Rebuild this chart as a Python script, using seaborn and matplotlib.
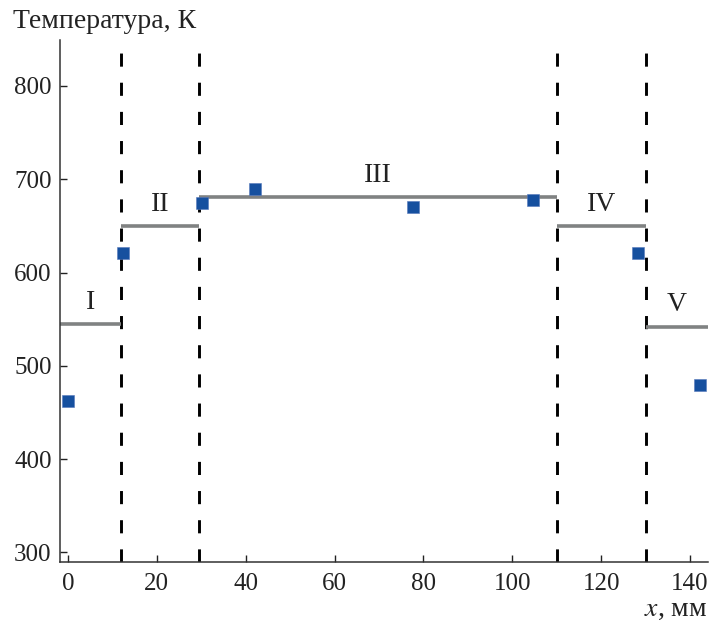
import matplotlib
matplotlib.use("Agg")
import matplotlib.pyplot as plt
import seaborn as sns
import pandas as pd

# Measured temperatures along the sample
x_mm = [0, 12.4, 30.1, 42.1, 77.6, 104.7, 128.3, 142.2]
temp_K = [462, 621, 674, 690, 670, 678, 621, 480]

# Heating zones: boundaries, set temperatures and names
zone_edges = [-1.8, 12, 29.5, 110, 130, 144]
zone_temp = [545, 650, 681, 650, 542]
zone_names = ["I", "II", "III", "IV", "V"]

x_ticks = [0, 20, 40, 60, 80, 100, 120, 140]
y_ticks = [300, 400, 500, 600, 700, 800]

sns.set_theme(style="ticks")
plt.rcParams["font.family"] = ["Liberation Serif", "DejaVu Serif"]
plt.rcParams["mathtext.fontset"] = "stix"

fig = plt.figure(figsize=(7.10, 6.24), dpi=100)
ax = fig.add_axes([0.0845, 0.0994, 0.9125, 0.8366])

# zone set-point levels
for i, (t, name) in enumerate(zip(zone_temp, zone_names)):
    x0, x1 = zone_edges[i], zone_edges[i + 1]
    ax.hlines(t, x0, x1, color="#808282", lw=2.6, zorder=2)
    ax.text((x0 + x1) / 2, t + 10, name, ha="center", va="bottom",
            fontsize=20, color="#222222")

# zone boundaries
for xb in zone_edges[1:-1]:
    ax.axvline(xb, color="black", lw=2.1, linestyle=(0, (4.5, 5.5)), zorder=1)

df = pd.DataFrame({"x": x_mm, "T": temp_K})
sns.scatterplot(data=df, x="x", y="T", marker="s", s=66, color="#16509f",
                edgecolor="#5577bb", linewidth=0.4, ax=ax, zorder=3)

ax.set_xlim(-1.8, 144)
ax.set_ylim(289.8, 849.3)
ax.set_xticks(x_ticks)
ax.set_yticks(y_ticks)
ax.tick_params(direction="in", length=5, width=1, labelsize=18,
               colors="#222222")
ax.tick_params(axis="x", pad=8)
ax.tick_params(axis="y", pad=6)
for s in ["top", "right"]:
    ax.spines[s].set_visible(False)
for s in ["left", "bottom"]:
    ax.spines[s].set_color("#333333")
    ax.spines[s].set_linewidth(1.1)
ax.set_xlabel("")
ax.set_ylabel("")

fig.text(0.018, 0.966, "Температура, К", ha="left", va="center",
         fontsize=20, color="#222222")
fig.text(0.997, 0.024, r"$x$, мм", ha="right", va="center",
         fontsize=20, color="#222222")

fig.savefig("out.png", dpi=100)
